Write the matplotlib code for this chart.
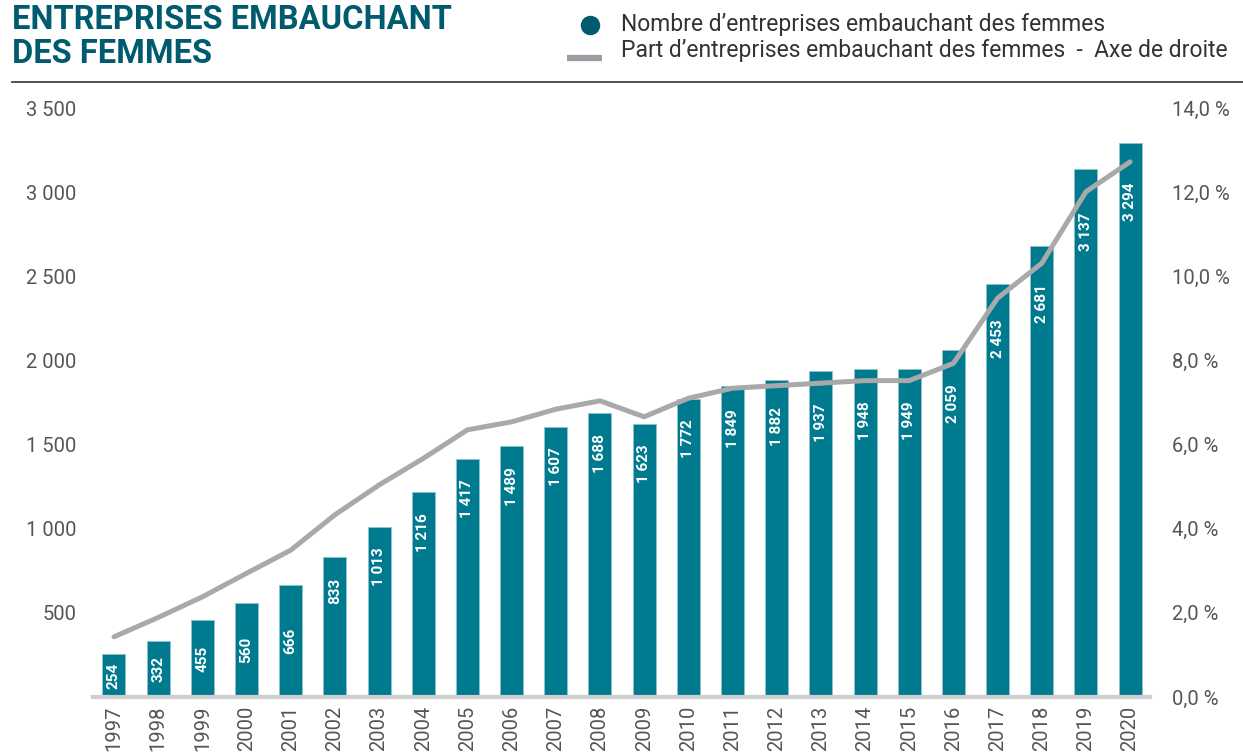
import matplotlib.pyplot as plt
from matplotlib.lines import Line2D

plt.rcParams['font.family'] = ['Roboto', 'DejaVu Sans']

# data
years = list(range(1997, 2021))
nb_entreprises = [254, 332, 455, 560, 666, 833, 1013, 1216, 1417, 1489, 1607, 1688,
                  1623, 1772, 1849, 1882, 1937, 1948, 1949, 2059, 2453, 2681, 3137, 3294]
part_pct = [1.43, 1.89, 2.38, 2.94, 3.49, 4.33, 5.04, 5.67, 6.35, 6.54, 6.84, 7.04,
            6.66, 7.10, 7.34, 7.40, 7.46, 7.52, 7.52, 7.93, 9.48, 10.31, 12.01, 12.72]
left_ticks = [500, 1000, 1500, 2000, 2500, 3000, 3500]
right_ticks = [0, 2, 4, 6, 8, 10, 12, 14]

teal = '#007a8f'
dark_teal = '#005b6e'
grey_line = '#a9a9ab'
tick_grey = '#555555'

W, H = 1243, 754
fig = plt.figure(figsize=(W / 100, H / 100), dpi=100)
ax = fig.add_axes([93 / W, (H - 697) / H, (1150 - 93) / W, 589 / H])
ax2 = ax.twinx()

x = list(range(len(years)))
ax.bar(x, nb_entreprises, width=0.52, color=teal, edgecolor='#8fc3cc',
       linewidth=0.6, zorder=2)
ax.set_xlim(-0.475, 23.45)
ax.set_ylim(0, 3500)
ax2.set_ylim(0, 14)
ax2.plot(x, part_pct, color=grey_line, lw=3.6, solid_capstyle='round', zorder=3)

# bar values inside the bars, kept under the line when it crosses the bar
scale = ax.get_ylim()[1] / ax2.get_ylim()[1]
for xi, v, p in zip(x, nb_entreprises, part_pct):
    lab = f"{v:,}".replace(",", "\u202f")
    if v < 700:
        ax.text(xi, v / 2, lab, rotation=90, ha='center', va='center',
                color='white', fontsize=11, fontweight='semibold', zorder=4)
    else:
        anchor = min(v, p * scale)
        ax.annotate(lab, (xi, anchor), xytext=(0, -15), textcoords='offset points',
                    rotation=90, ha='center', va='top', color='white',
                    fontsize=11, fontweight='semibold', zorder=4)

ax.set_xticks(x)
ax.set_xticklabels([str(y) for y in years], rotation=90, fontsize=14.5, color=tick_grey)
ax.set_yticks(left_ticks)
ax.set_yticklabels([f"{t:,}".replace(",", " ") for t in left_ticks], fontsize=14.5,
                   color=tick_grey)
ax2.set_yticks(right_ticks)
ax2.set_yticklabels([f"{t:.1f}".replace(".", ",") + " %" for t in right_ticks],
                    fontsize=14.5, color=tick_grey)
ax.tick_params(axis='y', length=0, pad=12)
ax.tick_params(axis='x', length=0, pad=6)
ax2.tick_params(axis='y', length=0, pad=16)

for a in (ax, ax2):
    for s in a.spines.values():
        s.set_visible(False)
ax.spines['bottom'].set_visible(True)
ax.spines['bottom'].set_color('#cfcfd1')
ax.spines['bottom'].set_linewidth(3)

# title, legend and separator line
fig.text(12 / W, 1 - 29 / H, "ENTREPRISES EMBAUCHANT", ha='left', va='baseline',
         fontsize=23.5, fontweight='bold', color=dark_teal)
fig.text(12 / W, 1 - 63 / H, "DES FEMMES", ha='left', va='baseline',
         fontsize=23.5, fontweight='bold', color=dark_teal)
fig.add_artist(Line2D([12 / W, 1], [1 - 82 / H, 1 - 82 / H], color='#444444', lw=1.3))
fig.add_artist(Line2D([590 / W], [1 - 25 / H], marker='o', markersize=13,
                      color=dark_teal, linestyle='none'))
fig.add_artist(Line2D([567 / W, 602 / W], [1 - 58 / H, 1 - 58 / H], color='#9a9ea2',
                      lw=4.5, solid_capstyle='butt'))
fig.text(621 / W, 1 - 24 / H, "Nombre d\u2019entreprises embauchant des femmes",
         ha='left', va='center', fontsize=16.5, color='#333333')
fig.text(621 / W, 1 - 50 / H,
         "Part d\u2019entreprises embauchant des femmes  -  Axe de droite",
         ha='left', va='center', fontsize=16.5, color='#333333')

fig.savefig('out.png', dpi=100)
